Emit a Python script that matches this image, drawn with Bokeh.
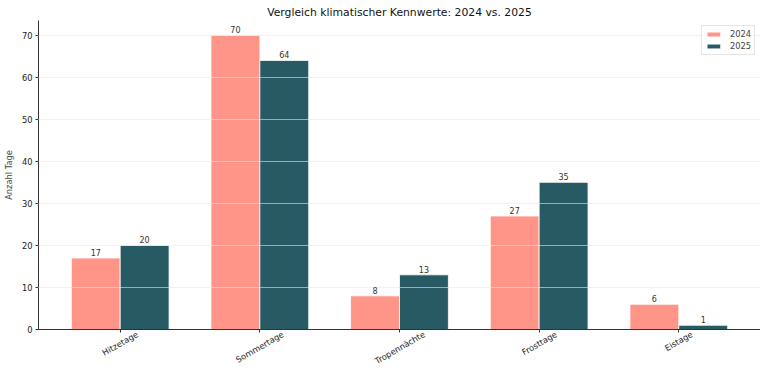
import numpy as np
from bokeh.plotting import figure
from bokeh.models import (Range1d, FixedTicker, ColumnDataSource, LabelSet, LinearAxis,
                          CustomJSTickFormatter)
from bokeh.core.properties import value
from bokeh.transform import dodge
from bokeh.embed import file_html
from bokeh.resources import INLINE

categories = ["Hitzetage", "Sommertage", "Tropennächte", "Frosttage", "Eistage"]
values_2024 = [17, 70, 8, 27, 6]
values_2025 = [20, 64, 13, 35, 1]
y_ticks = [0, 10, 20, 30, 40, 50, 60, 70]

x = list(range(len(categories)))
src = ColumnDataSource(dict(
    x=x,
    v2024=values_2024,
    v2025=values_2025,
    t2024=[str(v) for v in values_2024],
    t2025=[str(v) for v in values_2025],
))

FONT = "DejaVu Sans"
C24 = "#ff9489"
C25 = "#285a64"
W = 0.35
TICK_PX = 8.3
ANGLE = np.pi / 6
X0, X1 = -0.585, 4.585
FIG_W, FIG_H = 760, 373
LEFT = 34

p = figure(width=FIG_W, height=FIG_H, x_range=Range1d(X0, X1), y_range=Range1d(0, 73.5),
           output_backend="svg", toolbar_location=None,
           title="Vergleich klimatischer Kennwerte: 2024 vs. 2025",
           min_border_left=LEFT, min_border_right=0, min_border_top=20, min_border_bottom=43)

p.title.align = "center"
p.title.text_font = FONT
p.title.text_font_size = "10.8px"
p.title.text_font_style = "normal"
p.title.text_color = "#111111"
p.title.standoff = 3
p.title.offset = 0

p.vbar(x=dodge("x", -W / 2), top="v2024", width=W, source=src, fill_color=C24,
       line_color="white", line_width=0.8, legend_label="2024")
p.vbar(x=dodge("x", W / 2), top="v2025", width=W, source=src, fill_color=C25,
       line_color="white", line_width=0.8, legend_label="2025")

for col, off in (("2024", -W / 2), ("2025", W / 2)):
    p.add_layout(LabelSet(x=dodge("x", off), y="v" + col, text="t" + col, source=src,
                          y_offset=2, text_align="center", text_baseline="bottom",
                          text_font=value(FONT), text_font_size=value("8px"),
                          text_color=value("#333333")))

p.outline_line_color = None
p.xgrid.visible = False
p.ygrid.grid_line_color = "#e8e8e8"
p.ygrid.grid_line_alpha = 0.6
p.ygrid.level = "guide"

# main x axis: spine and tick marks only
main_x = p.below[0]
main_x.ticker = FixedTicker(ticks=x)
main_x.major_label_overrides = {i: "" for i in x}
main_x.major_label_standoff = 0

main_y = p.left[0]
main_y.ticker = FixedTicker(ticks=y_ticks)
main_y.axis_label = "Anzahl Tage"

for ax in (main_x, main_y):
    ax.axis_line_color = "#333333"
    ax.major_tick_line_color = "#333333"
    ax.major_tick_in = 0
    ax.major_tick_out = 3
    ax.minor_tick_line_color = None
    ax.major_label_text_font = FONT
    ax.major_label_text_font_size = f"{TICK_PX}px"
    ax.major_label_text_color = "#222222"
    ax.axis_label_text_font = FONT
    ax.axis_label_text_font_size = f"{TICK_PX}px"
    ax.axis_label_text_font_style = "normal"
    ax.axis_label_standoff = 5
main_y.major_label_standoff = 3

# rotated category labels, centred under each tick (Bokeh right-aligns rotated
# labels at the anchor, so shift the anchor by half the text length)
DJV = {"H": .752, "i": .278, "t": .392, "z": .525, "e": .615, "a": .613, "g": .635,
       "S": .635, "o": .612, "m": .974, "r": .411, "T": .611, "p": .635, "n": .634,
       "ä": .613, "c": .550, "h": .634, "F": .575, "s": .521, "E": .632}
px_per_unit = (FIG_W - LEFT) / (X1 - X0)
shift = [sum(DJV.get(ch, .6) for ch in c) * TICK_PX / 2 * np.cos(ANGLE) / px_per_unit
         for c in categories]
lab_axis = LinearAxis(ticker=FixedTicker(ticks=[xi + s for xi, s in zip(x, shift)]),
                      formatter=CustomJSTickFormatter(args=dict(labels=categories),
                                                      code="return labels[index]"),
                      major_label_orientation=ANGLE)
lab_axis.axis_line_color = None
lab_axis.major_tick_line_color = None
lab_axis.minor_tick_line_color = None
lab_axis.major_tick_in = 0
lab_axis.major_tick_out = 0
lab_axis.major_label_standoff = 1
lab_axis.major_label_text_font = FONT
lab_axis.major_label_text_font_size = f"{TICK_PX}px"
lab_axis.major_label_text_color = "#222222"
p.add_layout(lab_axis, "below")

p.legend.location = "top_right"
p.legend.label_text_font = FONT
p.legend.label_text_font_size = f"{TICK_PX}px"
p.legend.glyph_width = 17
p.legend.glyph_height = 6
p.legend.label_standoff = 8
p.legend.spacing = 2
p.legend.padding = 3
p.legend.margin = 5
p.legend.border_line_color = "#cccccc"
p.legend.background_fill_alpha = 0.8

open("out.html", "w").write(file_html(p, INLINE))
